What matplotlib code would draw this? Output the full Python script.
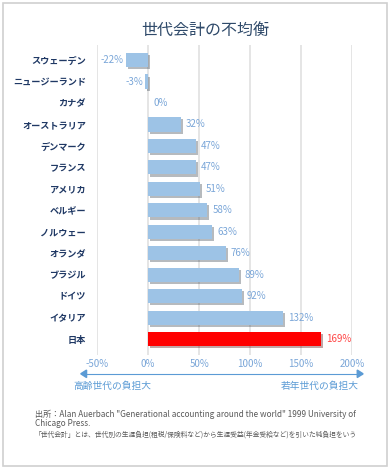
import matplotlib.pyplot as plt
import matplotlib.patheffects as pe
from matplotlib.patches import Rectangle

plt.rcParams['font.family'] = ['Noto Sans CJK JP', 'DejaVu Sans']

countries = ['スウェーデン', 'ニュージーランド', 'カナダ', 'オーストラリア', 'デンマーク',
             'フランス', 'アメリカ', 'ベルギー', 'ノルウェー', 'オランダ', 'ブラジル',
             'ドイツ', 'イタリア', '日本']
values = [-22, -3, 0, 32, 47, 47, 51, 58, 63, 76, 89, 92, 132, 169]
ticks = [-50, 0, 50, 100, 150, 200]
tick_labels = ['-50%', '0%', '50%', '100%', '150%', '200%']

fig = plt.figure(figsize=(3.9, 4.69), dpi=100)
fig.patches.append(Rectangle((0.008, 0.006), 0.984, 0.988, transform=fig.transFigure,
                             fill=False, edgecolor='#d0d0d0', linewidth=1.2))

ax = fig.add_axes([0.249, 0.243, 0.654, 0.661])
colors = ['#9DC3E6'] * (len(values) - 1) + ['#FF0000']
y = list(range(len(values)))
bars = ax.barh(y, values, height=0.66, color=colors, zorder=3)
for b in bars:
    b.set_path_effects([pe.SimplePatchShadow(offset=(1.5, -1.5), alpha=0.35), pe.Normal()])

for i, v in enumerate(values):
    c = '#FF4444' if countries[i] == '日本' else '#7AA6D8'
    if v < 0:
        ax.text(v - 2, i, f'{v}%', ha='right', va='center', fontsize=7, color=c)
    else:
        ax.text(v + 5, i, f'{v}%', ha='left', va='center', fontsize=7, color=c)

ax.set_xlim(-50, 200)
ax.set_ylim(13.74, -0.7)
ax.set_xticks(ticks)
ax.set_xticklabels(tick_labels, fontsize=7, color='#7AA6D8')
ax.set_yticks(y)
ax.set_yticklabels(countries, fontsize=6.6, fontweight='bold', color='#1F3864')
ax.tick_params(length=0, pad=3)
ax.tick_params(axis='y', pad=8)
ax.grid(axis='x', color='#e0e0e0', linewidth=1.2, zorder=0)
for s in ax.spines.values():
    s.set_visible(False)

fig.text(0.527, 0.936, '世代会計の不均衡', ha='center', va='center', fontsize=11.5,
         color='#2F4A6A')

fig.add_artist(plt.Line2D([0.21, 0.928], [0.203, 0.203], color='#5B9BD5', linewidth=0.8))
fig.patches.append(plt.Polygon([[0.207, 0.203], [0.222, 0.211], [0.222, 0.195]],
                               closed=True, color='#5B9BD5', transform=fig.transFigure))
fig.patches.append(plt.Polygon([[0.931, 0.203], [0.916, 0.211], [0.916, 0.195]],
                               closed=True, color='#5B9BD5', transform=fig.transFigure))
fig.text(0.187, 0.177, '高齢世代の負担大', ha='left', va='center', fontsize=7, color='#5B9BD5')
fig.text(0.92, 0.177, '若年世代の負担大', ha='right', va='center', fontsize=7, color='#5B9BD5')

fig.text(0.09, 0.117, '出所：Alan Auerbach "Generational accounting around the world" 1999 University of',
         ha='left', va='center', fontsize=5.9, color='#595959')
fig.text(0.09, 0.098, 'Chicago Press.', ha='left', va='center', fontsize=5.9, color='#595959')
fig.text(0.09, 0.073, '「世代会計」とは、世代別の生涯負担(租税/保険料など)から生涯受益(年金受給など)を引いた純負担をいう',
         ha='left', va='center', fontsize=4.9, color='#595959')

fig.savefig('out.png', dpi=100)
